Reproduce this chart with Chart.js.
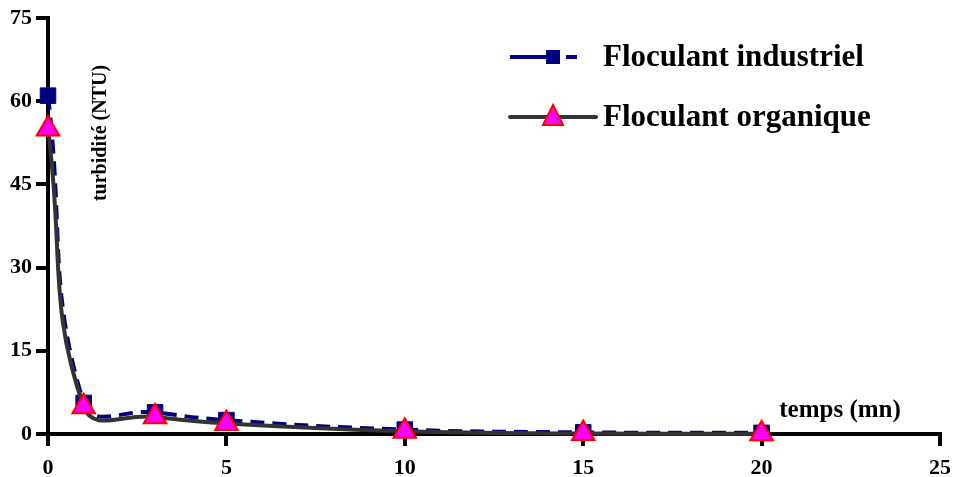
<!DOCTYPE html>
<html>
<head>
<meta charset="utf-8">
<script src="https://cdn.jsdelivr.net/npm/chart.js@4/dist/chart.umd.min.js"></script>
<style>
  html, body { margin: 0; padding: 0; background: #fff; }
  #wrap { width: 956px; height: 477px; }
</style>
</head>
<body>
<div id="wrap"><canvas id="ch"></canvas></div>
<script>
var temps = [0, 1, 3, 5, 10, 15, 20];
var industriel = [61, 5.6, 3.9, 2.5, 0.8, 0.3, 0.2];
var organique = [55, 4.9, 3.1, 1.9, 0.5, 0.1, 0.05];
var xTicks = [0, 5, 10, 15, 20, 25];
var yTicks = [0, 15, 30, 45, 60, 75];

var SERIF = "'Liberation Serif', 'Times New Roman', serif";
var NAVY = "#000080";
var GRIS = "#333333";

function pts(xs, ys) {
  return xs.map(function (x, i) { return { x: x, y: ys[i] }; });
}

var textes = {
  id: "textes",
  afterDraw: function (chart) {
    var c = chart.ctx, a = chart.chartArea;
    c.save();
    c.fillStyle = "#000";
    // titre axe y (dans la zone)
    c.font = "bold 20px " + SERIF;
    c.translate(a.left + 53, a.top + 115);
    c.rotate(-Math.PI / 2);
    c.textAlign = "center";
    c.textBaseline = "middle";
    c.fillText("turbidité (NTU)", 0, 0);
    c.restore();

    c.save();
    c.fillStyle = "#000";
    c.font = "bold 25px " + SERIF;
    c.textAlign = "center";
    c.textBaseline = "middle";
    c.fillText("temps (mn)", 840, 411);

    // légende
    var ds = chart.data.datasets;
    var rows = [57, 117];
    for (var i = 0; i < ds.length; i++) {
      var d = ds[i], y = rows[i];
      c.strokeStyle = d.borderColor;
      c.lineWidth = d.borderWidth;
      c.lineCap = i === 1 ? "round" : "butt";
      if (i === 0) {
        c.beginPath(); c.moveTo(510, y); c.lineTo(550, y); c.stroke();
        c.beginPath(); c.moveTo(566, y); c.lineTo(577, y); c.stroke();
        c.fillStyle = d.pointBackgroundColor;
        c.fillRect(546, y - 7, 14, 14);
      } else {
        c.beginPath(); c.moveTo(510, y); c.lineTo(596, y); c.stroke();
        c.fillStyle = d.pointBackgroundColor;
        c.strokeStyle = d.pointBorderColor;
        c.lineWidth = 2;
        c.beginPath();
        c.moveTo(553, y - 12); c.lineTo(563, y + 8); c.lineTo(543, y + 8); c.closePath();
        c.fill(); c.stroke();
      }
      c.fillStyle = "#000";
      c.font = "bold 31px " + SERIF;
      c.textAlign = "left";
      c.fillText(d.label, 603, y + 1);
    }
    c.restore();
  },
};

new Chart(document.getElementById("ch"), {
  type: "line",
  data: {
    datasets: [
      {
        label: "Floculant industriel",
        data: pts(temps, industriel),
        borderColor: NAVY,
        borderWidth: 4,
        borderDash: [14, 8],
        pointStyle: "rect",
        pointRadius: 11,
        pointBackgroundColor: NAVY,
        pointBorderColor: NAVY,
        pointBorderWidth: 1,
        tension: 0.45,
        clip: false,
        order: 2,
      },
      {
        label: "Floculant organique",
        data: pts(temps, organique),
        borderColor: GRIS,
        borderWidth: 4,
        pointStyle: "triangle",
        pointRadius: 13,
        pointBackgroundColor: "#ff00ff",
        pointBorderColor: "#ff0000",
        pointBorderWidth: 2,
        tension: 0.45,
        clip: false,
        order: 1,
      },
    ],
  },
  options: {
    responsive: true,
    maintainAspectRatio: false,
    animation: false,
    layout: { padding: { top: 18, right: 16, left: 0, bottom: 0 } },
    plugins: { legend: { display: false }, tooltip: { enabled: false } },
    scales: {
      x: {
        type: "linear",
        min: 0,
        max: 25,
        afterBuildTicks: function (s) { s.ticks = xTicks.map(function (v) { return { value: v }; }); },
        afterFit: function (s) { s.height = 43; s.paddingRight = 0; s.paddingLeft = 0; },
        grid: { drawOnChartArea: false, color: "#000", lineWidth: 4, tickLength: 12 },
        border: { color: "#000", width: 4 },
        ticks: { color: "#000", font: { family: SERIF, size: 22, weight: "bold" }, padding: 9, maxRotation: 0 },
      },
      y: {
        min: 0,
        max: 75,
        afterBuildTicks: function (s) { s.ticks = yTicks.map(function (v) { return { value: v }; }); },
        afterFit: function (s) { s.width = 48; },
        grid: { drawOnChartArea: false, color: "#000", lineWidth: 4, tickLength: 12 },
        border: { color: "#000", width: 4 },
        ticks: { color: "#000", font: { family: SERIF, size: 22, weight: "bold" }, padding: 4 },
      },
    },
  },
  plugins: [textes],
});
</script>
</body>
</html>
